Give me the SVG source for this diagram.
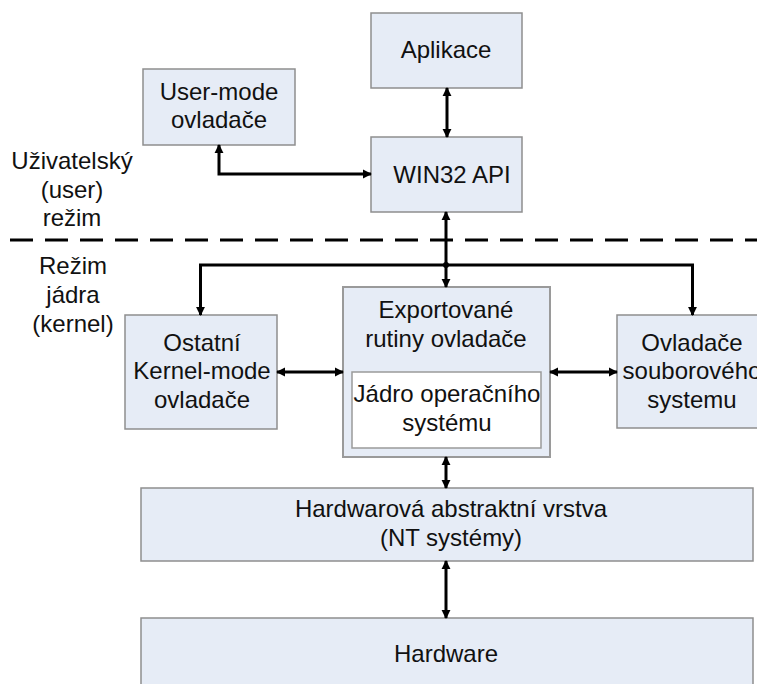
<svg xmlns="http://www.w3.org/2000/svg" width="757" height="684" viewBox="0 0 757 684">
<style>
.box{fill:#e6ecf6;stroke:#8e8e8e;stroke-width:1.5}
.inner{fill:#ffffff;stroke:#9a9a9a;stroke-width:1.5}
.t{font-family:"Liberation Sans",Arial,sans-serif;font-size:24px;fill:#111;text-anchor:middle}
.c{fill:none;stroke:#000;stroke-width:3}
</style>
<defs>
<marker id="ah" viewBox="0 0 10 10" refX="9" refY="5" markerUnits="userSpaceOnUse" markerWidth="9" markerHeight="10" orient="auto-start-reverse">
<path d="M0,0 L10,5 L0,10 z" fill="#000"/>
</marker>
</defs>
<rect width="757" height="684" fill="#fff"/>
<g id="labels">
<text class="t" x="72" y="169">Uživatelský</text>
<text class="t" x="72" y="198">(user)</text>
<text class="t" x="72" y="226">režim</text>
<text class="t" x="73" y="274">Režim</text>
<text class="t" x="73" y="303">jádra</text>
<text class="t" x="73" y="332">(kernel)</text>
</g>
<line x1="10" y1="240" x2="757" y2="240" stroke="#000" stroke-width="3" stroke-dasharray="23 12"/>
<g id="aplikace"><rect class="box" x="371" y="13" width="151" height="75"/><text class="t" x="446" y="58">Aplikace</text></g>
<g id="usermode"><rect class="box" x="143" y="69" width="152" height="76"/><text class="t" x="219" y="100">User-mode</text><text class="t" x="219" y="128">ovladače</text></g>
<g id="win32"><rect class="box" x="371" y="137" width="151" height="75"/><text class="t" x="452" y="183">WIN32 API</text></g>
<g id="ostatni"><rect class="box" x="125" y="315" width="152" height="114"/><text class="t" x="202" y="351">Ostatní</text><text class="t" x="202" y="379">Kernel-mode</text><text class="t" x="202" y="408">ovladače</text></g>
<g id="exportovane"><rect class="box" x="343" y="287" width="207" height="170" style="stroke:#9a9a9a;stroke-width:2"/><text class="t" x="446" y="318">Exportované</text><text class="t" x="446" y="347">rutiny ovladače</text></g>
<g id="jadro"><rect class="inner" x="352" y="372" width="189" height="76"/><text class="t" x="447" y="402">Jádro operačního</text><text class="t" x="447" y="431">systému</text></g>
<g id="ovladace"><rect class="box" x="617" y="315" width="152" height="113"/><text class="t" x="692" y="351">Ovladače</text><text class="t" x="692" y="379">souborového</text><text class="t" x="692" y="408">systemu</text></g>
<g id="hal"><rect class="box" x="141" y="488" width="612" height="73"/><text class="t" x="451" y="517">Hardwarová abstraktní vrstva</text><text class="t" x="451" y="546">(NT systémy)</text></g>
<g id="hardware"><rect class="box" x="141" y="618" width="612" height="80"/><text class="t" x="446" y="662">Hardware</text></g>
<g id="connectors">
<line class="c" x1="447" y1="88" x2="447" y2="137" marker-start="url(#ah)" marker-end="url(#ah)"/>
<path class="c" d="M219,145 V174 H371" marker-start="url(#ah)" marker-end="url(#ah)"/>
<line class="c" x1="446" y1="212" x2="446" y2="287" marker-start="url(#ah)" marker-end="url(#ah)"/>
<path class="c" d="M200.5,315 V265 H692.5 V315" marker-start="url(#ah)" marker-end="url(#ah)"/>
<circle cx="446" cy="265" r="3" fill="#000"/>
<line class="c" x1="277" y1="372" x2="343" y2="372" marker-start="url(#ah)" marker-end="url(#ah)"/>
<line class="c" x1="550" y1="372" x2="617" y2="372" marker-start="url(#ah)" marker-end="url(#ah)"/>
<line class="c" x1="446" y1="457" x2="446" y2="488" marker-start="url(#ah)" marker-end="url(#ah)"/>
<line class="c" x1="446" y1="561" x2="446" y2="618" marker-start="url(#ah)" marker-end="url(#ah)"/>
</g>
</svg>
